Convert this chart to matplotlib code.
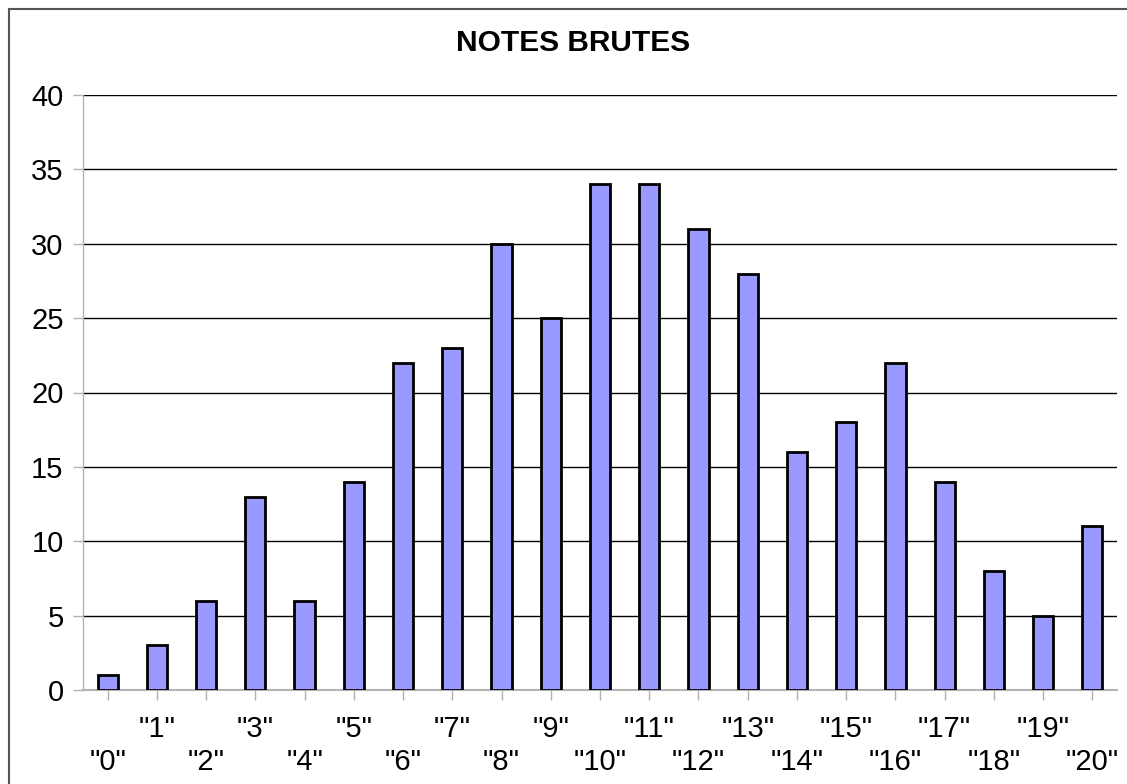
import matplotlib
matplotlib.use("Agg")
import matplotlib.pyplot as plt
from matplotlib.patches import Rectangle

plt.rcParams['font.family'] = ['Liberation Sans', 'DejaVu Sans']

categories = ['"0"', '"1"', '"2"', '"3"', '"4"', '"5"', '"6"', '"7"', '"8"', '"9"', '"10"',
              '"11"', '"12"', '"13"', '"14"', '"15"', '"16"', '"17"', '"18"', '"19"', '"20"']
values = [1, 3, 6, 13, 6, 14, 22, 23, 30, 25, 34, 34, 31, 28, 16, 18, 22, 14, 8, 5, 11]
yticks = [0, 5, 10, 15, 20, 25, 30, 35, 40]
title = "NOTES BRUTES"

W, H = 1127, 784
fig = plt.figure(figsize=(W / 100, H / 100), dpi=100)
fig.patch.set_facecolor('white')

# outer frame
fig.patches.append(Rectangle((9 / W, -0.05), 1.1, 1 - 9 / H + 0.05,
                             transform=fig.transFigure, fill=False,
                             edgecolor='#555555', linewidth=1.5, clip_on=False))

ax = fig.add_axes([83 / W, 1 - 690 / H, (1117 - 83) / W, (690 - 95) / H])
x = list(range(len(categories)))
ax.bar(x, values, width=0.41, color='#9999ff', edgecolor='black', linewidth=2, zorder=3)

ax.set_xlim(-0.5, len(categories) - 0.5)
ax.set_ylim(0, 40)
ax.set_yticks(yticks)
ax.set_yticklabels([str(v) for v in yticks])
ax.yaxis.grid(True, color='black', linewidth=1)
ax.set_axisbelow(True)

odd = [i for i in x if i % 2 == 1]
even = [i for i in x if i % 2 == 0]
ax.set_xticks(odd)
ax.set_xticklabels([categories[i] for i in odd])
ax.set_xticks(even, minor=True)
ax.set_xticklabels([categories[i] for i in even], minor=True)

fs = 21
ax.tick_params(axis='x', which='major', length=7, width=1, color='#b3b3b3',
               pad=11, labelsize=fs)
ax.tick_params(axis='x', which='minor', length=7, width=1, color='#b3b3b3',
               pad=35, labelsize=fs)
ax.tick_params(axis='y', length=7, width=1, color='#b3b3b3', pad=7, labelsize=fs)

for s in ['top', 'right']:
    ax.spines[s].set_visible(False)
ax.spines['left'].set_color('#b3b3b3')
ax.spines['bottom'].set_color('#b3b3b3')
ax.spines['bottom'].set_linewidth(1.5)
ax.spines['left'].set_linewidth(1)

fig.text(573.5 / W, 1 - 43 / H, title, ha='center', va='center',
         fontsize=21.5, fontweight='bold')

fig.savefig('out.png', dpi=100)
